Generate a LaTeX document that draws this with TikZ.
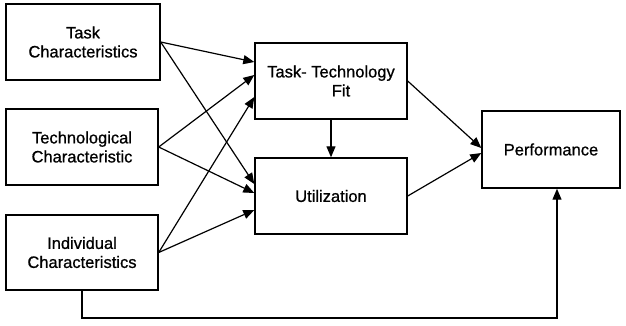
\documentclass[tikz,border=0pt]{standalone}
\usepackage{fontspec}
\setmainfont{Liberation Sans}
\newfontfamily\labelfont[FakeBold=0.8]{Liberation Sans}
\usetikzlibrary{arrows.meta}
\begin{document}
\begin{tikzpicture}[x=1pt,y=-1pt,
  box/.style={draw, line width=1.4pt, rectangle, align=center,
    font=\labelfont\fontsize{16.5}{19}\selectfont, inner sep=0pt},
  link/.style={line width=1.2pt, -{Triangle[length=11pt,width=9pt]}}]
  \useasboundingbox (0,0) rectangle (626,325);

  % input constructs
  \node[box, minimum width=154pt, minimum height=76pt] (task)  at (83,42)    {Task\\Characteristics};
  \node[box, minimum width=152pt, minimum height=76pt] (tech)  at (82,147)   {Technological\\Characteristic};
  \node[box, minimum width=152pt, minimum height=75pt] (indiv) at (82,252.5) {Individual\\Characteristics};

  % mediating constructs
  \node[box, minimum width=152pt, minimum height=76pt] (ttf)  at (331,81)  {Task- Technology\\\hspace*{20pt}Fit};
  \node[box, minimum width=152pt, minimum height=76pt] (util) at (331,196) {Utilization};

  % outcome
  \node[box, minimum width=138pt, minimum height=77pt] (perf) at (551,149.5) {Performance};

  % paths into fit and utilization
  \draw[link] (task.east)  -- ([yshift=19pt]ttf.west);
  \draw[link] (task.east)  -- ([yshift=12pt]util.west);
  \draw[link] (tech.east)  -- ([yshift=6pt]ttf.west);
  \draw[link] (tech.east)  -- ([yshift=3pt]util.west);
  \draw[link] (indiv.east) -- ([yshift=-16pt]ttf.west);
  \draw[link] (indiv.east) -- ([yshift=-14pt]util.west);
  \draw[link] (ttf.south)  -- (util.north);

  % paths into performance
  \draw[link] (ttf.east)  -- ([yshift=1.5pt]perf.west);
  \draw[link] (util.east) -- ([yshift=-3.5pt]perf.west);

  % direct path from individual characteristics
  \coordinate (fbl) at (82,318);
  \coordinate (fbr) at (557,318);
  \draw[link] (indiv.south) -- (fbl) -- (fbr) -- ([xshift=6pt]perf.south);
\end{tikzpicture}
\end{document}
